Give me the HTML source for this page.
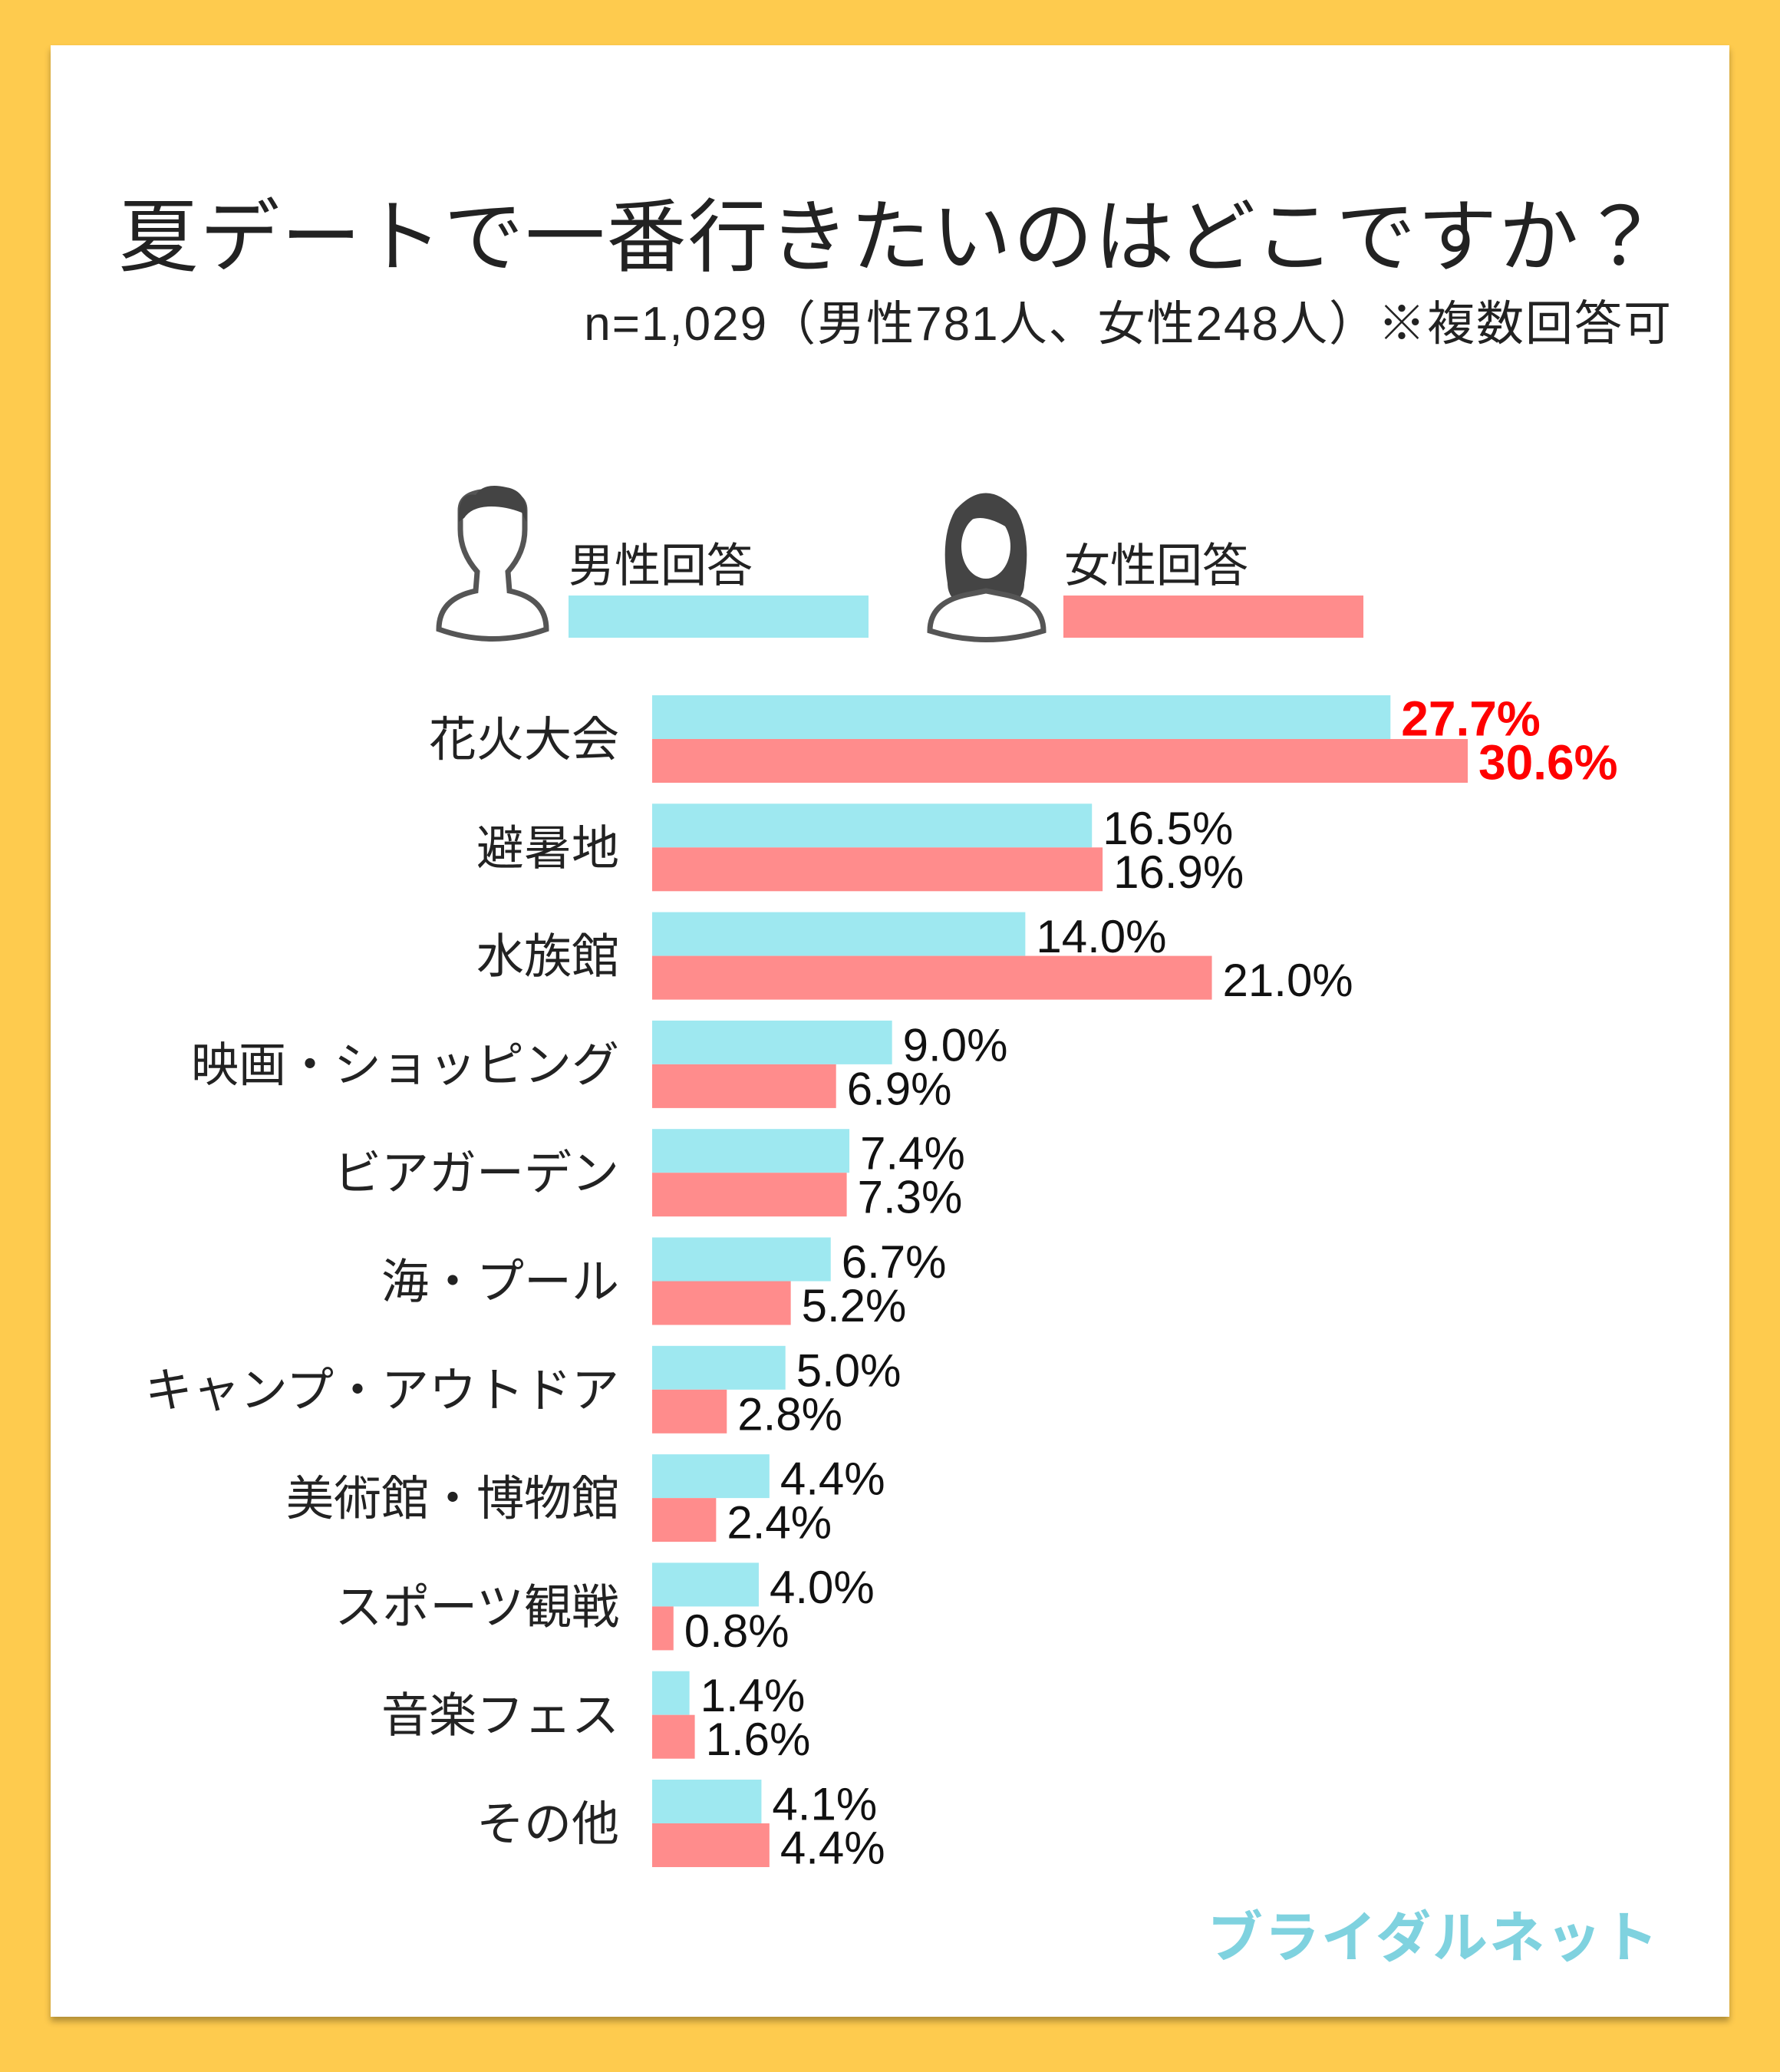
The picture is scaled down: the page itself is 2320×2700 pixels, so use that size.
<!DOCTYPE html>
<html><head><meta charset="utf-8">
<style>
html,body{margin:0;padding:0}
body{width:2320px;height:2700px;background:#FECB4E;position:relative;overflow:hidden;font-family:"Liberation Sans","Noto Sans CJK JP",sans-serif}
#panel{position:absolute;left:66px;top:59px;width:2188px;height:2569px;background:#fff;box-shadow:0 6px 8px rgba(0,0,0,0.3)}
svg{position:absolute;left:0;top:0}
</style></head><body>
<div id="panel"></div>
<svg id="chart" width="2320" height="2700" font-family="Liberation Sans, Noto Sans CJK JP, sans-serif">
<text x="1160" y="345" text-anchor="middle" font-size="104" fill="#222" letter-spacing="2">夏デートで一番行きたいのはどこですか？</text>
<text x="2180" y="443" text-anchor="end" font-size="62" fill="#222" letter-spacing="2">n=1,029（男性781人、女性248人）※複数回答可</text>
<g fill="none" stroke="#555" stroke-width="7">
<path d="M572 820 Q572 780 620 770 L622 745 Q600 720 600 690 L600 665 Q600 640 642 640 Q684 640 684 665 L684 690 Q684 720 662 745 L664 770 Q712 780 712 820 Q642 845 572 820 Z" fill="#fff"/>
<path d="M598 680 Q596 640 620 645 Q630 628 660 635 Q690 640 686 680 L680 668 Q660 660 640 660 Q615 660 605 675 Z" fill="#444" stroke="none"/>
</g>
<g>
<path d="M1235 760 Q1225 700 1245 665 Q1285 620 1325 665 Q1345 700 1335 760 Q1335 780 1315 790 L1255 790 Q1235 780 1235 760Z" fill="#444"/>
<path d="M1212 822 Q1212 785 1260 775 L1285 770 L1310 775 Q1360 785 1360 822 Q1285 845 1212 822Z" fill="#fff" stroke="#555" stroke-width="7"/>
<ellipse cx="1285" cy="712" rx="32" ry="42" fill="#fff"/>
<path d="M1253 690 Q1270 660 1317 690 L1317 665 L1253 665Z" fill="#444"/>
</g>
<text x="741" y="758" font-size="60" fill="#222">男性回答</text>
<rect x="741" y="776" width="391" height="55" fill="#9EE8F0"/>
<text x="1387" y="758" font-size="60" fill="#222">女性回答</text>
<rect x="1386" y="776" width="391" height="55" fill="#FF8C8C"/>
<g id="bars"></g>
<text x="2163" y="2550" text-anchor="end" font-size="72" font-weight="bold" fill="#7FD2DF" letter-spacing="2">ブライダルネット</text>
</svg>
<script>
const categories=["花火大会","避暑地","水族館","映画・ショッピング","ビアガーデン","海・プール","キャンプ・アウトドア","美術館・博物館","スポーツ観戦","音楽フェス","その他"];
const maleValues=[27.7,16.5,14.0,9.0,7.4,6.7,5.0,4.4,4.0,1.4,4.1];
const femaleValues=[30.6,16.9,21.0,6.9,7.3,5.2,2.8,2.4,0.8,1.6,4.4];
const NS="http://www.w3.org/2000/svg";
const x0=850, pxPer=34.74, top0=906, step=141.3, bh=57;
const xs=v=>v*pxPer;
const g=document.getElementById('bars');
function mk(tag,attrs,txt){const e=document.createElementNS(NS,tag);for(const k in attrs)e.setAttribute(k,attrs[k]);if(txt!==undefined)e.textContent=txt;g.appendChild(e);return e;}
categories.forEach((c,i)=>{
  const y=top0+i*step;
  const lab=mk('text',{x:807,y:y+bh+22,'text-anchor':'end','font-size':62,fill:'#222'},c);
  
  
  const top=i===0;
  [[maleValues[i],'#9EE8F0',y,'male'],[femaleValues[i],'#FF8C8C',y+bh,'female']].forEach(([v,col,by,s])=>{
    const r=mk('rect',{x:x0,y:by,width:xs(v),height:bh,fill:col});
    
    
    const t=mk('text',{x:x0+xs(v)+14,y:by+bh/2+24,'font-size':top?64:60,fill:top?'#FF0000':'#111','font-weight':top?'bold':'normal'},v.toFixed(1)+'%');
    
    
  });
});
</script>
</body></html>
